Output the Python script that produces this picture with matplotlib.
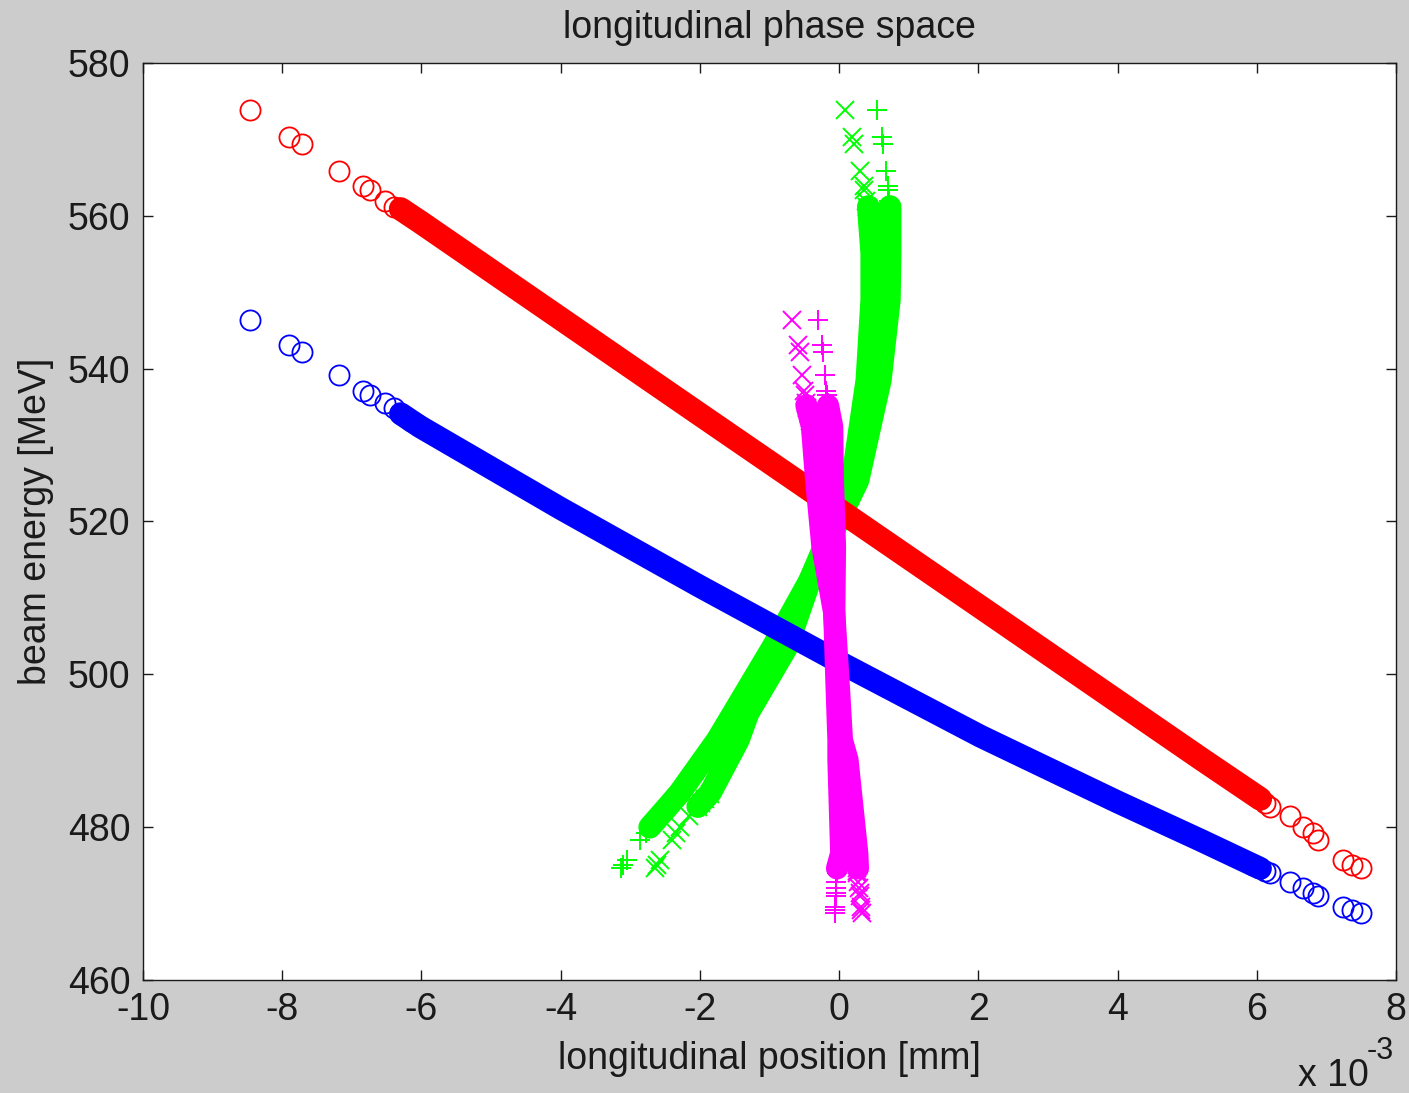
import matplotlib
matplotlib.use('Agg')
import matplotlib.pyplot as plt

plt.rcParams['font.family'] = ['Liberation Sans', 'DejaVu Sans']
plt.rcParams['axes.unicode_minus'] = False

# position in units of 1e-3 mm, energy in MeV
# sparse tail particles (left/top tail, edge of core, right/bottom tail)
tail_z = [-8.46, -7.91, -7.72, -7.18, -6.84, -6.74, -6.52, -6.40,
          -6.30, -6.15, -6.05, 5.95, 6.05, 6.12,
          6.19, 6.48, 6.67, 6.81, 6.88, 7.24, 7.37, 7.49]
red_tail_E = [573.8, 570.3, 569.4, 565.9, 563.9, 563.4, 561.9, 561.2,
              560.9, 560.0, 559.4, 484.3, 483.7, 483.1,
              482.7, 481.4, 480.0, 479.2, 478.3, 475.7, 475.0, 474.6]
blue_tail_E = [546.4, 543.1, 542.2, 539.2, 537.1, 536.5, 535.5, 534.9,
               534.1, 533.2, 532.6, 475.0, 474.6, 474.3,
               474.0, 472.8, 472.1, 471.4, 471.0, 469.6, 469.1, 468.8]

# same particles after the other transport (energies as red / blue)
green_x_tail_z = [0.09, 0.19, 0.22, 0.30, 0.35, 0.36, 0.39, 0.40,
                  0.41, 0.42, 0.43, -1.86, -1.93, -1.99,
                  -2.03, -2.16, -2.29, -2.34, -2.40, -2.57, -2.62, -2.64]
green_p_tail_z = [0.55, 0.62, 0.63, 0.68, 0.70, 0.70, 0.72, 0.73,
                  0.73, 0.73, 0.73, -2.28, -2.35, -2.41,
                  -2.46, -2.59, -2.72, -2.77, -2.86, -3.05, -3.10, -3.13]
magenta_x_tail_z = [-0.68, -0.59, -0.56, -0.53, -0.50, -0.49, -0.47, -0.46,
                    -0.44, -0.42, -0.40, 0.26, 0.26, 0.26,
                    0.26, 0.27, 0.29, 0.30, 0.30, 0.32, 0.32, 0.33]
magenta_p_tail_z = [-0.30, -0.24, -0.23, -0.20, -0.19, -0.17, -0.16, -0.15,
                    -0.14, -0.12, -0.11, -0.03, -0.03, -0.03,
                    -0.03, -0.04, -0.04, -0.04, -0.05, -0.06, -0.06, -0.06]

# dense cores of the distributions
red_core_z = [-6.30, -6.02, -2.00, 2.03, 5.19, 6.05]
red_core_E = [560.9, 559.2, 534.0, 508.8, 489.0, 483.7]
blue_core_z = [-6.30, -6.02, -4.00, -2.00, 0.00, 2.03, 4.00, 5.19, 6.05]
blue_core_E = [534.1, 532.4, 521.7, 511.5, 501.6, 491.9, 483.3, 478.3, 474.6]

green_x_core_z = [0.42, 0.47, 0.47, 0.40, 0.19, -0.42, -0.75, -1.31, -1.45, -1.85, -2.03]
green_x_core_E = [561.2, 555.1, 549.0, 538.5, 525.4, 512.3, 503.6, 494.9, 491.4, 484.5, 482.7]
green_p_core_z = [0.73, 0.73, 0.72, 0.59, 0.27, -0.42, -0.95, -1.52, -1.75, -2.29, -2.46, -2.72]
green_p_core_E = [561.2, 555.1, 549.0, 538.5, 525.4, 512.3, 503.6, 494.9, 491.4, 484.5, 482.7, 480.0]

magenta_x_core_z = [-0.47, -0.39, -0.33, -0.24, -0.07, -0.01, 0.04, 0.12, 0.26, 0.27]
magenta_p_core_z = [-0.16, -0.10, -0.09, -0.06, -0.07, -0.04, -0.01, -0.01, 0.03, -0.03]
magenta_core_E = [535.2, 532.4, 525.4, 516.7, 508.0, 499.3, 491.4, 488.8, 476.6, 474.6]

xticks = [-10, -8, -6, -4, -2, 0, 2, 4, 6, 8]
yticks = [460, 480, 500, 520, 540, 560, 580]

RED, BLUE, GREEN, MAGENTA = '#ff0000', '#0000ff', '#00ff00', '#ff00ff'
FS = 27
INK = '#1a1a1a'

fig = plt.figure(figsize=(14.09, 10.93), dpi=100, facecolor='#cccccc')
ax = fig.add_axes([0.1015, 0.1034, 0.8893, 0.839])

band = dict(solid_capstyle='round', solid_joinstyle='round')
circ = dict(mfc='none', ms=14.5, mew=1.3)

# green
ax.plot(green_x_core_z, green_x_core_E, color=GREEN, lw=16.5, zorder=2, **band)
ax.plot(green_p_core_z, green_p_core_E, color=GREEN, lw=16.5, zorder=2, **band)
ax.plot(green_x_tail_z, red_tail_E, 'x', color=GREEN, ms=13, mew=1.4, zorder=2)
ax.plot(green_p_tail_z, red_tail_E, '+', color=GREEN, ms=15, mew=1.4, zorder=2)

# red / blue
ax.plot(red_core_z, red_core_E, color=RED, lw=17, zorder=3, **band)
ax.plot(tail_z, red_tail_E, 'o', color=RED, zorder=3, **circ)
ax.plot(blue_core_z, blue_core_E, color=BLUE, lw=16.5, zorder=3, **band)
ax.plot(tail_z, blue_tail_E, 'o', color=BLUE, zorder=3, **circ)

# magenta
ax.plot(magenta_x_core_z, magenta_core_E, color=MAGENTA, lw=16, zorder=4, **band)
ax.plot(magenta_p_core_z, magenta_core_E, color=MAGENTA, lw=16, zorder=4, **band)
ax.plot(magenta_x_tail_z, blue_tail_E, 'x', color=MAGENTA, ms=13, mew=1.4, zorder=4)
ax.plot(magenta_p_tail_z, blue_tail_E, '+', color=MAGENTA, ms=15, mew=1.4, zorder=4)

ax.set_xlim(-10, 8)
ax.set_ylim(460, 580)
ax.set_xticks(xticks)
ax.set_yticks(yticks)
ax.set_xticklabels([str(t) for t in xticks])
ax.set_yticklabels([str(t) for t in yticks])
ax.tick_params(direction='in', length=7.5, width=1.0, top=True, right=True,
               labelsize=FS, pad=9, colors=INK)
for s in ax.spines.values():
    s.set_linewidth(1.0)
    s.set_color(INK)

ax.set_title('longitudinal phase space', fontsize=FS, pad=18, color=INK)
ax.set_xlabel('longitudinal position [mm]', fontsize=FS, labelpad=9, color=INK)
ax.set_ylabel('beam energy [MeV]', fontsize=FS, labelpad=10, color=INK)

fig.text(1298 / 1409, 1 - 1086 / 1093, 'x 10', fontsize=FS, ha='left', va='baseline', color=INK)
fig.text(1367 / 1409, 1 - 1059 / 1093, '-3', fontsize=22, ha='left', va='baseline', color=INK)

fig.savefig('out.png', dpi=100, facecolor=fig.get_facecolor())
